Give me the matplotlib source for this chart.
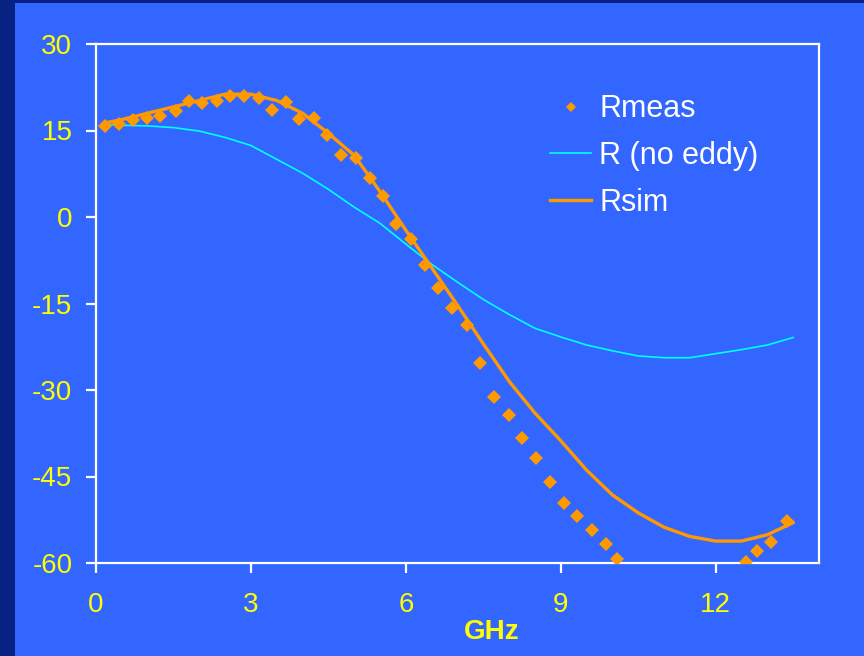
import matplotlib
matplotlib.use("Agg")
import matplotlib.pyplot as plt
from matplotlib.patches import Rectangle

plt.rcParams['font.family'] = ['Liberation Sans', 'DejaVu Sans']

# Measured R (diamonds)
meas_f = [0.17, 0.45, 0.72, 0.98, 1.24, 1.54, 1.80, 2.05, 2.34, 2.60, 2.86, 3.15,
          3.41, 3.67, 3.93, 4.22, 4.48, 4.75, 5.04, 5.30, 5.55, 5.81, 6.10, 6.37,
          6.63, 6.89, 7.18, 7.44, 7.70, 7.99, 8.25, 8.52, 8.80, 9.07, 9.32, 9.61,
          9.87, 10.08, 12.59, 12.79, 13.08, 13.39]
meas_r = [15.8, 16.1, 16.9, 17.2, 17.5, 18.3, 20.2, 19.8, 20.2, 20.9, 20.9, 20.6,
          18.6, 19.9, 17.0, 17.2, 14.3, 10.7, 10.2, 6.7, 3.7, -1.3, -3.8, -8.3,
          -12.3, -15.8, -18.7, -25.4, -31.2, -34.3, -38.4, -41.8, -45.9, -49.6,
          -51.9, -54.2, -56.7, -59.3, -59.9, -57.9, -56.4, -52.8]

# Simulated curves
sim_f = [0.17, 0.5, 1.0, 1.5, 2.0, 2.5, 3.0, 3.5, 4.0, 4.5, 5.0, 5.5, 6.0, 6.5,
         7.0, 7.5, 8.0, 8.5, 9.0, 9.5, 10.0, 10.5, 11.0, 11.5, 12.0, 12.5, 13.0, 13.5]
rsim = [16.3, 16.9, 18.0, 19.1, 20.2, 21.3, 21.3, 20.2, 18.0, 14.5, 10.7, 4.4,
        -2.3, -8.8, -15.3, -22.0, -28.5, -34.0, -38.8, -43.9, -48.2, -51.3,
        -53.8, -55.4, -56.2, -56.2, -55.1, -53.0]
r_noeddy = [16.1, 15.9, 15.8, 15.5, 14.9, 13.8, 12.4, 10.0, 7.6, 4.8, 1.7, -1.1,
            -4.7, -8.2, -11.3, -14.3, -16.9, -19.3, -20.8, -22.2, -23.2, -24.1,
            -24.4, -24.4, -23.7, -23.0, -22.2, -20.9]

xticks = [0, 3, 6, 9, 12]
yticks = [-60, -45, -30, -15, 0, 15, 30]

BG = '#3366FF'
NAVY = '#062383'
ORANGE = '#FF9900'
CYAN = '#00FFFF'
YELLOW = '#FFFF00'

fig = plt.figure(figsize=(8.64, 6.56), dpi=100, facecolor=BG)
fig.patches.append(Rectangle((0, 0), 15 / 864, 1, transform=fig.transFigure,
                             facecolor=NAVY, edgecolor='none', zorder=0))
fig.patches.append(Rectangle((0, 1 - 3 / 656), 1, 3 / 656, transform=fig.transFigure,
                             facecolor=NAVY, edgecolor='none', zorder=0))

ax = fig.add_axes([96 / 864, 1 - 563 / 656, (819 - 96) / 864, (563 - 44) / 656])
ax.set_facecolor(BG)

ax.plot(meas_f, meas_r, linestyle='none', marker='D', ms=7, color=ORANGE,
        markeredgewidth=0, label='Rmeas', zorder=4)
ax.plot(sim_f, r_noeddy, color=CYAN, lw=1.2, label='R (no eddy)', zorder=3)
ax.plot(sim_f, rsim, color=ORANGE, lw=2.4, label='Rsim', zorder=3)

ax.set_xlim(0, 14)
ax.set_ylim(-60, 30)
ax.set_xticks(xticks)
ax.set_yticks(yticks)
ax.set_xticklabels([str(t) for t in xticks])
ax.set_yticklabels([str(t) for t in yticks])

for s in ax.spines.values():
    s.set_color('white')
    s.set_linewidth(1.6)
ax.tick_params(axis='both', colors='white', length=7, width=1.6, direction='out',
               labelsize=20, labelcolor=YELLOW)
ax.tick_params(axis='y', pad=10)
ax.tick_params(axis='x', pad=14)

fig.text(492 / 864, 1 - 632 / 656, 'GHz', color=YELLOW, fontsize=20,
         fontweight='bold', ha='center', va='center')

leg = ax.legend(loc='upper left', bbox_to_anchor=((538 - 96) / (819 - 96), (563 - 82) / (563 - 44)),
                frameon=False, fontsize=22, handlelength=1.34, handletextpad=0.26,
                labelspacing=0.55, markerscale=0.7, borderaxespad=0)
for t in leg.get_texts():
    t.set_color('white')

fig.savefig('out.png', dpi=100, facecolor=BG)
